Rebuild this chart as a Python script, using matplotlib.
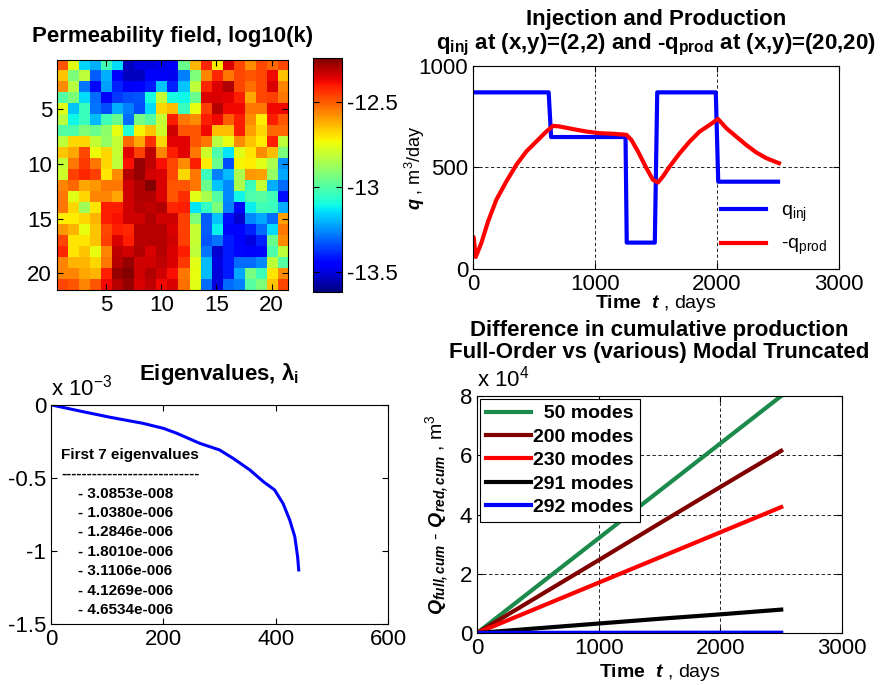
import matplotlib
matplotlib.use('Agg')
import matplotlib.pyplot as plt
from matplotlib.ticker import FuncFormatter

plt.rcParams['font.family'] = ['Liberation Sans', 'DejaVu Sans']
plt.rcParams['font.size'] = 16
plt.rcParams['axes.unicode_minus'] = False
plt.rcParams['mathtext.fontset'] = 'custom'
plt.rcParams['mathtext.rm'] = 'Liberation Sans'
plt.rcParams['mathtext.it'] = 'Liberation Sans:italic'
plt.rcParams['mathtext.bf'] = 'Liberation Sans:bold'
plt.rcParams['mathtext.bfit'] = 'Liberation Sans:bold:italic'
plt.rcParams['xtick.direction'] = 'in'
plt.rcParams['ytick.direction'] = 'in'
plt.rcParams['xtick.top'] = True
plt.rcParams['ytick.right'] = True
plt.rcParams['xtick.major.size'] = 4
plt.rcParams['ytick.major.size'] = 4

# permeability field, log10(k), 21x21 (row 1 at top)
logk = [
    [-12.49, -12.76, -13.16, -13.21, -13.03, -13.15, -13.54, -13.50, -13.50, -13.48, -13.47, -12.96, -12.63, -12.42, -12.71, -12.35, -12.47, -12.57, -12.47, -12.52, -12.47],
    [-12.65, -12.93, -12.82, -13.32, -13.21, -13.44, -13.54, -13.54, -13.45, -13.47, -13.48, -13.27, -12.93, -12.56, -12.42, -12.54, -12.47, -12.49, -12.47, -12.38, -12.65],
    [-12.57, -12.83, -13.29, -13.44, -13.23, -13.40, -13.47, -13.45, -13.41, -13.18, -13.40, -13.18, -12.82, -12.42, -12.35, -12.30, -12.47, -12.53, -12.47, -12.35, -12.56],
    [-13.00, -12.93, -13.15, -13.30, -13.45, -13.37, -13.34, -13.33, -13.10, -12.81, -13.10, -13.11, -12.96, -12.35, -12.35, -12.36, -12.41, -12.61, -12.47, -12.46, -12.54],
    [-12.76, -13.18, -13.04, -13.29, -13.34, -13.21, -13.27, -13.34, -13.15, -12.68, -12.64, -13.04, -12.75, -12.46, -12.31, -12.38, -12.38, -12.54, -12.54, -12.38, -12.38],
    [-12.83, -13.11, -13.04, -13.19, -13.03, -12.96, -13.30, -12.94, -12.99, -12.81, -12.41, -12.54, -12.57, -12.41, -12.38, -12.50, -12.41, -12.57, -12.71, -12.41, -12.49],
    [-13.00, -13.01, -12.92, -12.96, -12.90, -12.75, -13.08, -12.72, -12.65, -12.79, -12.34, -12.49, -12.49, -12.38, -12.64, -12.64, -12.41, -12.60, -12.68, -12.52, -12.52],
    [-12.82, -12.68, -12.68, -12.81, -12.89, -12.81, -12.52, -12.61, -12.43, -12.68, -12.36, -12.36, -12.49, -12.54, -12.83, -12.75, -12.57, -12.65, -12.71, -12.41, -12.82],
    [-12.65, -12.61, -12.47, -12.74, -12.68, -12.81, -12.36, -12.46, -12.32, -12.56, -12.41, -12.36, -12.54, -12.79, -13.01, -13.14, -12.76, -12.70, -12.57, -12.64, -12.93],
    [-12.81, -12.54, -12.45, -12.54, -12.68, -12.82, -12.39, -12.27, -12.32, -12.39, -12.47, -12.57, -12.41, -12.71, -12.96, -13.34, -12.72, -12.71, -12.76, -12.85, -13.25],
    [-12.79, -12.46, -12.42, -12.46, -12.70, -12.57, -12.31, -12.27, -12.34, -12.35, -12.47, -12.68, -12.54, -13.04, -13.27, -13.19, -12.85, -12.59, -12.60, -12.89, -13.22],
    [-12.56, -12.52, -12.61, -12.59, -12.54, -12.54, -12.34, -12.30, -12.25, -12.35, -12.49, -12.49, -12.54, -12.96, -13.18, -13.26, -12.85, -13.04, -12.81, -13.21, -13.30],
    [-12.54, -12.76, -12.68, -12.56, -12.56, -12.61, -12.34, -12.30, -12.30, -12.35, -12.49, -12.43, -12.76, -12.85, -13.00, -13.26, -13.11, -13.01, -12.99, -13.03, -13.43],
    [-12.54, -12.68, -12.87, -12.70, -12.41, -12.41, -12.34, -12.31, -12.32, -12.30, -12.42, -12.41, -13.14, -13.05, -12.93, -13.27, -13.44, -13.12, -13.03, -13.04, -13.21],
    [-12.71, -12.71, -12.68, -12.63, -12.41, -12.39, -12.34, -12.34, -12.30, -12.34, -12.34, -12.46, -12.93, -13.32, -13.18, -13.43, -13.52, -13.26, -13.22, -13.30, -12.60],
    [-12.59, -12.63, -12.75, -12.65, -12.47, -12.41, -12.42, -12.31, -12.31, -12.31, -12.35, -12.46, -12.81, -13.32, -13.12, -13.44, -13.44, -13.40, -13.30, -13.15, -12.54],
    [-12.47, -12.70, -12.70, -12.65, -12.46, -12.35, -12.41, -12.31, -12.31, -12.31, -12.34, -12.46, -12.81, -13.33, -13.29, -13.41, -13.45, -13.50, -13.40, -12.96, -12.57],
    [-12.42, -12.70, -12.65, -12.75, -12.56, -12.32, -12.34, -12.30, -12.35, -12.31, -12.35, -12.41, -12.82, -13.29, -13.52, -13.41, -13.44, -13.45, -13.44, -13.01, -12.82],
    [-12.56, -12.63, -12.63, -12.68, -12.54, -12.31, -12.27, -12.34, -12.34, -12.32, -12.35, -12.45, -12.76, -13.19, -13.50, -13.41, -13.30, -13.30, -13.26, -12.82, -13.00],
    [-12.56, -12.56, -12.61, -12.63, -12.41, -12.27, -12.25, -12.34, -12.30, -12.34, -12.39, -12.54, -12.75, -13.19, -13.51, -13.41, -13.22, -12.94, -13.03, -12.70, -12.57],
    [-12.47, -12.49, -12.56, -12.49, -12.38, -12.31, -12.27, -12.35, -12.32, -12.38, -12.35, -12.53, -12.76, -13.30, -13.50, -13.30, -13.27, -12.99, -12.93, -12.65, -12.47],
]
logk_min, logk_max = -13.62, -12.24
grid_ticks = [5, 10, 15, 20]
cbar_ticks = [-13.5, -13, -12.5]

# injection / production rates, m3/day
t_inj = [0, 620, 640, 1250, 1260, 1490, 1510, 1990, 2010, 2500]
q_inj = [870, 870, 650, 650, 130, 130, 870, 870, 430, 430]
t_prod = [0, 5, 22, 68, 123, 191, 273, 355, 437, 519, 601, 656, 710, 820, 929, 1038, 1148, 1257,
          1298, 1352, 1421, 1475, 1516, 1557, 1612, 1694, 1776, 1858, 1940, 2008, 2077, 2158,
          2240, 2322, 2404, 2508]
q_prod = [150, 157, 59, 128, 234, 341, 431, 513, 579, 628, 677, 705, 702, 689, 677, 669, 666, 661,
          636, 579, 497, 439, 426, 456, 505, 570, 628, 677, 710, 739, 693, 652,
          611, 574, 546, 521]

# eigenvalues (sorted)
eig_idx = [1, 57, 105, 164, 200, 224, 265, 300, 324, 354, 378, 398, 413, 425, 434, 439, 441]
eig_val = [0, -0.046e-3, -0.084e-3, -0.126e-3, -0.160e-3, -0.194e-3, -0.263e-3, -0.308e-3,
           -0.365e-3, -0.445e-3, -0.525e-3, -0.582e-3, -0.674e-3, -0.788e-3, -0.902e-3,
           -1.039e-3, -1.130e-3]
first_eigs = ['3.0853e-008', '1.0380e-006', '1.2846e-006', '1.8010e-006',
              '3.1106e-006', '4.1269e-006', '4.6534e-006']

# cumulative production difference, m3
t_cum = [0, 500, 1000, 1500, 2000, 2500]
mode_labels = ['  50 modes', '200 modes', '230 modes', '291 modes', '292 modes']
mode_colors = ['#1b8a4b', '#800000', '#ff0000', '#000000', '#0000ff']
dq_cum = [
    [0, 16000, 32000, 48000, 64000, 80000],
    [0, 12300, 24600, 37000, 49300, 61500],
    [0, 8500, 17000, 25500, 34000, 42500],
    [0, 1600, 3200, 4800, 6300, 7900],
    [0, 60, 80, 90, 100, 100],
]

fig = plt.figure(figsize=(8.9, 6.85), dpi=100)
grid_kw = dict(color='black', linestyle=(0, (4, 3)), linewidth=0.6)
title_kw = dict(fontweight='bold', fontsize=16, linespacing=1.1)

# --- permeability field
ax1 = fig.add_axes([0.064, 0.577, 0.2596, 0.3358])
im = ax1.imshow(logk, cmap='jet', vmin=logk_min, vmax=logk_max, aspect='auto',
                interpolation='nearest', extent=(0.5, 21.5, 21.5, 0.5))
ax1.set_xticks(grid_ticks)
ax1.set_yticks(grid_ticks)
ax1.set_title('Permeability field, log10(k)', pad=13, **title_kw)
cax = fig.add_axes([0.3517, 0.5737, 0.0326, 0.3416])
cb = fig.colorbar(im, cax=cax)
cb.set_ticks(cbar_ticks)
cb.set_ticklabels(['%g' % v for v in cbar_ticks])
cax.tick_params(direction='in', left=True, right=True, length=4)

# --- injection and production
ax2 = fig.add_axes([0.5315, 0.6073, 0.4112, 0.2964])
ax2.plot(t_inj, q_inj, color='#0000ff', lw=3, label='q$_{\\mathrm{inj}}$')
ax2.plot(t_prod, q_prod, color='#ff0000', lw=3, label='-q$_{\\mathrm{prod}}$')
ax2.set_xlim(0, 3000)
ax2.set_ylim(0, 1000)
ax2.set_xticks([0, 1000, 2000, 3000])
ax2.set_yticks([0, 500, 1000])
ax2.grid(True, **grid_kw)
ax2.set_title('Injection and Production\n$\\mathbf{q}_{\\mathbf{inj}}$ at (x,y)=(2,2) and '
              '-$\\mathbf{q}_{\\mathbf{prod}}$ at (x,y)=(20,20)', pad=12, **title_kw)
ax2.set_xlabel('$\\mathbf{Time}\\ \\ \\mathbfit{t}$ , days', fontsize=14, labelpad=-1)
ax2.set_ylabel('$\\mathbfit{q}$ , m$^3$/day', fontsize=13)
ax2.yaxis.set_label_coords(-0.125, 0.5)
ax2.legend(loc='lower right', frameon=False, fontsize=14, handlelength=2.3,
           borderaxespad=0.2, labelspacing=0.6)

# --- eigenvalues
ax3 = fig.add_axes([0.0573, 0.0891, 0.3787, 0.3197])
ax3.plot(eig_idx, eig_val, color='#0000ff', lw=2.2)
ax3.set_xlim(0, 600)
ax3.set_ylim(-1.5e-3, 0)
ax3.set_xticks([0, 200, 400, 600])
ax3.set_yticks([0, -0.5e-3, -1e-3, -1.5e-3])
ax3.yaxis.set_major_formatter(FuncFormatter(lambda v, p: '%g' % round(v * 1e3, 3)))
ax3.text(0, 1.02, 'x 10$^{-3}$', transform=ax3.transAxes, fontsize=16, va='bottom')
ax3.set_title('Eigenvalues, $\\mathbf{\\lambda}_{\\mathbf{i}}$', pad=18, **title_kw)
ax3.text(0.03, 0.77, 'First 7 eigenvalues', transform=ax3.transAxes,
         fontsize=11, fontweight='bold', va='center')
ax3.text(0.03, 0.685, '-' * 27, transform=ax3.transAxes,
         fontsize=11, fontweight='bold', va='center')
for i, ev in enumerate(first_eigs):
    ax3.text(0.08, 0.595 - i * 0.0885, '- ' + ev, transform=ax3.transAxes,
             fontsize=11, fontweight='bold', va='center')

# --- cumulative production difference
ax4 = fig.add_axes([0.536, 0.0759, 0.4101, 0.346])
for lab, col, dq in zip(mode_labels, mode_colors, dq_cum):
    ax4.plot(t_cum, dq, color=col, lw=3, label=lab)
ax4.set_xlim(0, 3000)
ax4.set_ylim(0, 8e4)
ax4.set_xticks([0, 1000, 2000, 3000])
ax4.set_yticks([0, 2e4, 4e4, 6e4, 8e4])
ax4.yaxis.set_major_formatter(FuncFormatter(lambda v, p: '%g' % round(v / 1e4, 3)))
ax4.text(0, 1.02, 'x 10$^{4}$', transform=ax4.transAxes, fontsize=16, va='bottom')
ax4.grid(True, **grid_kw)
ax4.set_title('Difference in cumulative production\nFull-Order vs (various) Modal Truncated',
              pad=27, **title_kw)
ax4.set_xlabel('$\\mathbf{Time}\\ \\ \\mathbfit{t}$ , days', fontsize=14, labelpad=2)
ax4.set_ylabel('$\\mathbfit{Q}_{\\mathbfit{full,cum}}$ - $\\mathbfit{Q}_{\\mathbfit{red,cum}}$ , m$^3$',
               fontsize=14)
ax4.yaxis.set_label_coords(-0.07, 0.5)
leg = ax4.legend(loc='upper left', prop={'weight': 'bold', 'size': 14},
                 handlelength=2.3, handletextpad=0.15, borderaxespad=0.15, borderpad=0.3,
                 labelspacing=0.3, fancybox=False, edgecolor='black', framealpha=1)
leg.get_frame().set_linewidth(0.8)

fig.savefig('out.png', dpi=100)
